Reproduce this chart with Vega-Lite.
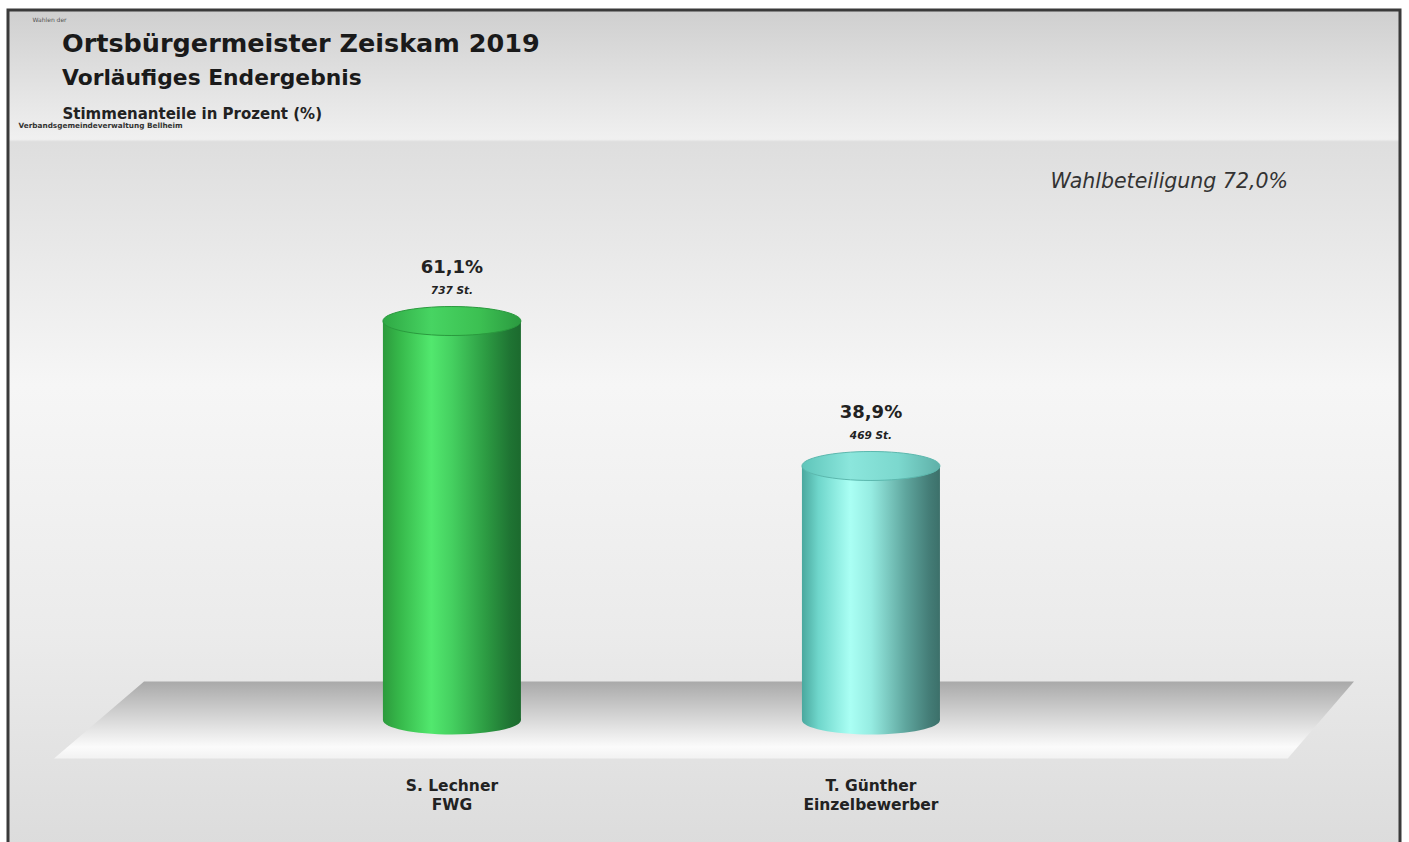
{
  "$schema": "https://vega.github.io/schema/vega-lite/v6.json",
  "width": 1392,
  "height": 834,
  "autosize": {"type": "none"},
  "padding": {"left": 8, "top": 10, "right": 9, "bottom": 0},
  "background": "#ffffff",
  "config": {
    "font": "DejaVu Sans",
    "view": {
      "fill": {"gradient": "linear", "x1": 0, "y1": 0, "x2": 0, "y2": 1, "stops": [
        {"offset": 0, "color": "#cfcfcf"},
        {"offset": 0.155, "color": "#f0f0f0"},
        {"offset": 0.158, "color": "#dedede"},
        {"offset": 0.45, "color": "#f6f6f6"},
        {"offset": 0.75, "color": "#ebebeb"},
        {"offset": 1, "color": "#dcdcdc"}
      ]},
      "stroke": "#3a3a3a",
      "strokeWidth": 3
    }
  },
  "title": {
    "text": "Ortsbürgermeister Zeiskam 2019",
    "subtitle": "Vorläufiges Endergebnis",
    "anchor": "start",
    "frame": "group",
    "orient": "top",
    "offset": -80,
    "dx": 54,
    "font": "DejaVu Sans",
    "fontSize": 25.5,
    "fontWeight": "bold",
    "color": "#1a1a1a",
    "subtitleFont": "DejaVu Sans",
    "subtitleFontSize": 21.8,
    "subtitleFontWeight": "bold",
    "subtitleColor": "#1a1a1a",
    "subtitlePadding": 11
  },
  "resolve": {"scale": {"x": "independent", "y": "independent"}},
  "layer": [
    {
      "data": {"values": [{"teil": "Boden"}]},
      "mark": {
        "type": "point",
        "filled": true,
        "opacity": 1,
        "shape": "M -0.8615 -0.0592 L 1 -0.0592 L 0.898 0.0592 L -1 0.0592 Z",
        "size": 1690000,
        "strokeOpacity": 0,
        "fill": {"gradient": "linear", "x1": 0, "y1": 0, "x2": 0, "y2": 1, "stops": [
          {"offset": 0, "color": "#a9a9a9"},
          {"offset": 0.45, "color": "#d4d4d4"},
          {"offset": 0.85, "color": "#fbfbfb"},
          {"offset": 1, "color": "#f2f2f2"}
        ]}
      },
      "encoding": {
        "x": {
          "field": "teil", "type": "nominal", "scale": {"type": "band"},
          "axis": {"orient": "top", "title": "Wahlen der", "labels": false, "ticks": false, "domain": false, "grid": false,
            "titleX": 24, "titleY": 11, "titleAlign": "left", "titleBaseline": "alphabetic", "titleAngle": 0,
            "titleFontSize": 6, "titleFontWeight": "normal", "titleColor": "#555555"}
        },
        "y": {
          "datum": 0, "type": "quantitative", "scale": {"domain": [-18.99, 108.73], "zero": false, "nice": false},
          "axis": {"orient": "right", "title": "Verbandsgemeindeverwaltung Bellheim", "labels": false, "ticks": false, "domain": false, "grid": false,
            "titleX": -1382, "titleY": 117, "titleAlign": "left", "titleBaseline": "alphabetic", "titleAngle": 0,
            "titleFontSize": 7.3, "titleFontWeight": "bold", "titleColor": "#333333"}
        }
      }
    },
    {
      "data": {"values": [{"kennzahl": "Wahlbeteiligung", "info": "Wahlbeteiligung 72,0%"}]},
      "mark": {"type": "text", "align": "right", "baseline": "middle", "dx": 584, "font": "DejaVu Sans", "fontSize": 20.5, "fontStyle": "italic", "color": "#333333"},
      "encoding": {
        "x": {"field": "kennzahl", "type": "nominal", "scale": {"type": "band"}, "axis": null},
        "y": {"datum": 82.4, "type": "quantitative", "scale": {"domain": [-18.99, 108.73], "zero": false, "nice": false}, "axis": null},
        "text": {"field": "info", "type": "nominal"}
      }
    },
    {
      "data": {"values": [
        {"kandidat": "S. Lechner|FWG", "anteil": 61.1, "prozent": "61,1%", "stimmen": "737 St."},
        {"kandidat": "T. Günther|Einzelbewerber", "anteil": 38.9, "prozent": "38,9%", "stimmen": "469 St."}
      ]},
      "encoding": {
        "x": {
          "field": "kandidat", "type": "nominal", "sort": null,
          "scale": {"type": "band", "paddingInner": 0.67, "paddingOuter": 0.996, "align": 0.449},
          "axis": {"orient": "bottom", "title": null, "labelExpr": "split(datum.value, '|')", "labelAngle": 0,
            "labelFont": "DejaVu Sans", "labelFontSize": 15.5, "labelFontWeight": "bold", "labelColor": "#222222",
            "labelLineHeight": 19, "labelBaseline": "top", "labelPadding": 2, "offset": -68,
            "ticks": false, "domain": false, "grid": false}
        },
        "y": {
          "field": "anteil", "type": "quantitative",
          "scale": {"domain": [-18.99, 108.73], "zero": false, "nice": false},
          "axis": {"orient": "left", "title": "Stimmenanteile in Prozent (%)", "labels": false, "ticks": false, "domain": false, "grid": false,
            "titleX": 54, "titleY": 108, "titleAlign": "left", "titleBaseline": "alphabetic", "titleAngle": 0,
            "titleFont": "DejaVu Sans", "titleFontSize": 15, "titleFontWeight": "bold", "titleColor": "#222222"}
        }
      },
      "layer": [
        {
          "transform": [{"filter": "datum.kandidat == 'S. Lechner|FWG'"}],
          "mark": {"type": "bar", "width": 138, "fill": {"gradient": "linear", "x1": 0, "y1": 0, "x2": 1, "y2": 0, "stops": [
            {"offset": 0, "color": "#2c9a3c"}, {"offset": 0.12, "color": "#36b84a"}, {"offset": 0.35, "color": "#52e86e"},
            {"offset": 0.5, "color": "#45d060"}, {"offset": 0.75, "color": "#2c9a42"}, {"offset": 0.92, "color": "#1f7433"}, {"offset": 1, "color": "#1c6a2e"}]}},
          "encoding": {"y2": {"datum": 0}}
        },
        {
          "transform": [{"filter": "datum.kandidat == 'S. Lechner|FWG'"}],
          "mark": {"type": "point", "filled": true, "opacity": 1, "size": 19044, "strokeOpacity": 0,
            "shape": "M -1 0 A 1 0.21 0 1 0 1 0 A 1 0.21 0 1 0 -1 0 Z",
            "fill": {"gradient": "linear", "x1": 0, "y1": 0, "x2": 1, "y2": 0, "stops": [
            {"offset": 0, "color": "#2c9a3c"}, {"offset": 0.12, "color": "#36b84a"}, {"offset": 0.35, "color": "#52e86e"},
            {"offset": 0.5, "color": "#45d060"}, {"offset": 0.75, "color": "#2c9a42"}, {"offset": 0.92, "color": "#1f7433"}, {"offset": 1, "color": "#1c6a2e"}]}},
          "encoding": {"y": {"datum": 0, "type": "quantitative"}}
        },
        {
          "transform": [{"filter": "datum.kandidat == 'S. Lechner|FWG'"}],
          "mark": {"type": "point", "filled": true, "opacity": 1, "size": 19044, "stroke": "#2a9a3e", "strokeWidth": 1,
            "shape": "M -1 0 A 1 0.21 0 1 0 1 0 A 1 0.21 0 1 0 -1 0 Z",
            "fill": {"gradient": "linear", "x1": 0, "y1": 0, "x2": 1, "y2": 0, "stops": [
            {"offset": 0, "color": "#2fa844"}, {"offset": 0.35, "color": "#47d462"}, {"offset": 0.7, "color": "#3cc052"}, {"offset": 1, "color": "#2b9a40"}]}}
        },
        {
          "transform": [{"filter": "datum.kandidat == 'T. Günther|Einzelbewerber'"}],
          "mark": {"type": "bar", "width": 138, "fill": {"gradient": "linear", "x1": 0, "y1": 0, "x2": 1, "y2": 0, "stops": [
            {"offset": 0, "color": "#4aa89e"}, {"offset": 0.12, "color": "#6fd6cb"}, {"offset": 0.35, "color": "#aafff4"},
            {"offset": 0.5, "color": "#96ece2"}, {"offset": 0.75, "color": "#5fa69e"}, {"offset": 0.92, "color": "#447d77"}, {"offset": 1, "color": "#3c706a"}]}},
          "encoding": {"y2": {"datum": 0}}
        },
        {
          "transform": [{"filter": "datum.kandidat == 'T. Günther|Einzelbewerber'"}],
          "mark": {"type": "point", "filled": true, "opacity": 1, "size": 19044, "strokeOpacity": 0,
            "shape": "M -1 0 A 1 0.21 0 1 0 1 0 A 1 0.21 0 1 0 -1 0 Z",
            "fill": {"gradient": "linear", "x1": 0, "y1": 0, "x2": 1, "y2": 0, "stops": [
            {"offset": 0, "color": "#4aa89e"}, {"offset": 0.12, "color": "#6fd6cb"}, {"offset": 0.35, "color": "#aafff4"},
            {"offset": 0.5, "color": "#96ece2"}, {"offset": 0.75, "color": "#5fa69e"}, {"offset": 0.92, "color": "#447d77"}, {"offset": 1, "color": "#3c706a"}]}},
          "encoding": {"y": {"datum": 0, "type": "quantitative"}}
        },
        {
          "transform": [{"filter": "datum.kandidat == 'T. Günther|Einzelbewerber'"}],
          "mark": {"type": "point", "filled": true, "opacity": 1, "size": 19044, "stroke": "#5cb8ae", "strokeWidth": 1,
            "shape": "M -1 0 A 1 0.21 0 1 0 1 0 A 1 0.21 0 1 0 -1 0 Z",
            "fill": {"gradient": "linear", "x1": 0, "y1": 0, "x2": 1, "y2": 0, "stops": [
            {"offset": 0, "color": "#5fc5ba"}, {"offset": 0.35, "color": "#8be6dc"}, {"offset": 0.7, "color": "#7cd8ce"}, {"offset": 1, "color": "#5fb0a8"}]}}
        },
        {
          "mark": {"type": "text", "dy": -53, "baseline": "middle", "font": "DejaVu Sans", "fontSize": 18, "fontWeight": "bold", "color": "#222222"},
          "encoding": {"text": {"field": "prozent"}}
        },
        {
          "mark": {"type": "text", "dy": -30, "baseline": "middle", "font": "DejaVu Sans", "fontSize": 10.5, "fontWeight": "bold", "fontStyle": "italic", "color": "#222222"},
          "encoding": {"text": {"field": "stimmen"}}
        }
      ]
    }
  ]
}
